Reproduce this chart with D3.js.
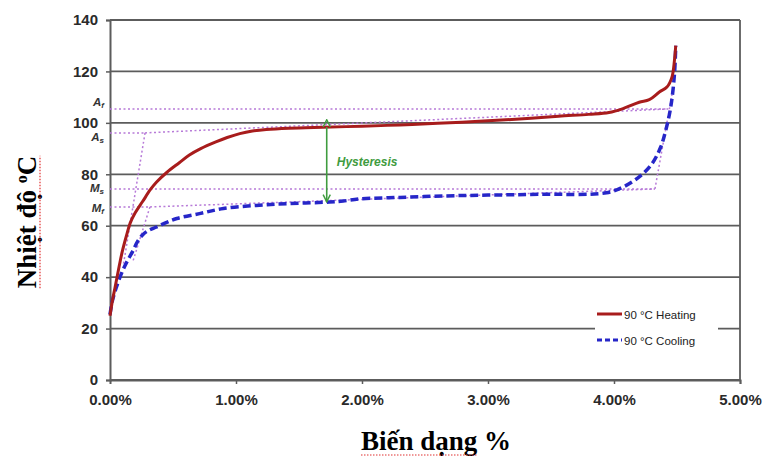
<!DOCTYPE html>
<html><head><meta charset="utf-8">
<script src="https://cdn.jsdelivr.net/npm/d3@7/dist/d3.min.js"></script>
<style>body{margin:0;background:#fff}svg{display:block}</style>
</head><body>
<svg id="c" width="764" height="459"></svg>
<script>
// ---- data ----
const xTicks = [0, 1, 2, 3, 4, 5];
const yTicks = [0, 20, 40, 60, 80, 100, 120, 140];
const heatStrain = [0,0.02,0.04,0.06,0.08,0.1,0.13,0.16,0.2,0.26,0.32,0.37,0.45,0.55,0.63,0.72,0.84,0.93,1.03,1.13,1.24,1.42,1.69,2.0,2.3,2.6,2.93,3.25,3.56,3.8,3.96,4.08,4.2,4.28,4.36,4.42,4.46,4.48,4.49];
const heatTemp   = [25,31,36,41,46,50.5,56,61,65,69.5,74,77,80.7,84.5,87.5,90,92.6,94.3,95.8,96.8,97.4,97.9,98.3,98.7,99.2,99.8,100.6,101.5,102.6,103.3,104,105.7,108,109,112,113.9,117.8,124.4,130];
const coolStrain = [0,0.02,0.05,0.1,0.14,0.18,0.22,0.26,0.3,0.37,0.45,0.53,0.71,0.9,1.16,1.42,1.74,1.85,1.98,2.3,2.67,3.0,3.4,3.94,4.07,4.2,4.3,4.37,4.41,4.45,4.48,4.49];
const coolTemp   = [25.5,31,36,42.5,46.5,50,54,56.5,58,59.5,61.3,62.8,64.7,66.7,67.9,68.6,69.2,69.6,70.4,71,71.6,71.9,72.2,72.8,75,79,84,90.5,97,106,119,130];
const seriesNames = ["90 °C Heating", "90 °C Cooling"];
// construction lines (strain %, temperature)
const refLines = [
  [[0,105.4],[4.43,105.4]],            // Af
  [[0,96.1],[0.278,96.1]],             // As
  [[0.278,96.1],[4.43,105.4]],         // heating plateau tangent
  [[0.278,96.1],[0.107,45]],           // heating start tangent
  [[0,74.3],[4.325,74.3]],             // Ms
  [[0,67.3],[0.317,67.3]],             // Mf
  [[0.317,67.3],[4.325,74.3]],         // cooling plateau tangent
  [[0.317,67.3],[0.181,46]],           // cooling start tangent
  [[4.325,74.3],[4.46,111]]            // cooling end tangent
];
const tempLabels = [["A","f",105.4],["A","s",96.1],["M","s",74.3],["M","f",67.3]];
const hysteresis = {strain: 1.72, from: 98.4, to: 69.3, label: "Hysteresis"};

// ---- chart ----
const svg = d3.select("#c");
const x = d3.scaleLinear().domain([0,5]).range([110,740]);
const y = d3.scaleLinear().domain([0,140]).range([380,20]);
const grid = "#5c5c5c";

// gridlines
svg.append("g").selectAll("line").data(yTicks).join("line")
  .attr("x1", x(0)).attr("x2", x(5))
  .attr("y1", d=>y(d)).attr("y2", d=>y(d))
  .attr("stroke", grid).attr("stroke-width", 1.8);

// axes
const yAxis = d3.axisLeft(y).tickValues(yTicks).tickSize(4).tickPadding(8).tickFormat(d3.format("d"));
const gy = svg.append("g").attr("transform", `translate(${x(0)},0)`).call(yAxis);
const xAxis = d3.axisBottom(x).tickValues(xTicks).tickSize(4).tickPadding(10).tickFormat(d=>d3.format(".2f")(d)+"%");
const gx = svg.append("g").attr("transform", `translate(0,${y(0)})`).call(xAxis);
[gx, gy].forEach(g=>{
  g.select(".domain").attr("stroke", grid).attr("stroke-width", 2);
  g.selectAll(".tick line").attr("stroke", grid).attr("stroke-width", 1.5);
  g.selectAll("text").attr("font-family","Arial, Liberation Sans, sans-serif")
   .attr("font-weight","bold").attr("font-size",15).attr("fill","#2a2a2a");
});
gx.select(".tick line").remove();
// right border
svg.append("line").attr("x1", x(5)).attr("x2", x(5)).attr("y1", y(0)).attr("y2", y(140))
  .attr("stroke", grid).attr("stroke-width", 1.8);

// construction lines
svg.append("g").selectAll("path").data(refLines).join("path")
  .attr("d", d3.line().x(d=>x(d[0])).y(d=>y(d[1])))
  .attr("fill","none").attr("stroke","#b77ad8").attr("stroke-width",1.5)
  .attr("stroke-dasharray","2,2.5");

// temperature labels
const tl = svg.append("g").attr("font-family","Arial, Liberation Sans, sans-serif")
  .attr("font-weight","bold").attr("font-style","italic").attr("fill","#333");
const labelOffset = {"Af":-3, "As":8, "Ms":3.5, "Mf":5};
tempLabels.forEach(([a,b,v])=>{
  const t = tl.append("text").attr("x", 104).attr("y", y(v)+labelOffset[a+b]).attr("text-anchor","end");
  t.append("tspan").attr("font-size",11.5).text(a);
  t.append("tspan").attr("font-size",8).attr("dy",2).text(b);
});

// series
const heat = heatStrain.map((s,i)=>[s, heatTemp[i]]);
const cool = coolStrain.map((s,i)=>[s, coolTemp[i]]);
const line = d3.line().x(d=>x(d[0])).y(d=>y(d[1])).curve(d3.curveCatmullRom.alpha(0.5));
svg.append("path").datum(cool).attr("d", line).attr("fill","none")
  .attr("stroke","#2626c8").attr("stroke-width",3.5).attr("stroke-dasharray","8,4");
svg.append("path").datum(heat).attr("d", line).attr("fill","none")
  .attr("stroke","#a81c1c").attr("stroke-width",3);

// hysteresis arrow
const green = "#3f9c3f";
const defs = svg.append("defs");
["s","e"].forEach(k=>{
  defs.append("marker").attr("id","m"+k).attr("viewBox","0 0 10 10").attr("refX",k==="e"?9:1).attr("refY",5)
    .attr("markerWidth",9).attr("markerHeight",9).attr("orient", k==="e"?"auto":"auto-start-reverse")
    .attr("markerUnits","userSpaceOnUse")
    .append("path").attr("d","M1,1 L9,5 L1,9").attr("fill","none").attr("stroke",green).attr("stroke-width",1.6);
});
svg.append("line").attr("x1", x(hysteresis.strain)).attr("x2", x(hysteresis.strain))
  .attr("y1", y(hysteresis.from)).attr("y2", y(hysteresis.to))
  .attr("stroke", green).attr("stroke-width",1.6)
  .attr("marker-start","url(#ms)").attr("marker-end","url(#me)");
svg.append("text").attr("x", x(hysteresis.strain)+10).attr("y", y((hysteresis.from+hysteresis.to)/2)+2)
  .attr("font-family","Arial, Liberation Sans, sans-serif").attr("font-weight","bold").attr("font-style","italic")
  .attr("font-size",12).attr("fill", green).text(hysteresis.label);

// legend
const lg = svg.append("g").attr("transform","translate(595,300)");
lg.append("rect").attr("width",123).attr("height",52).attr("fill","#fff");
seriesNames.forEach((n,i)=>{
  const g = lg.append("g").attr("transform",`translate(0,${14+i*26})`);
  g.append("line").attr("x1",2).attr("x2",27).attr("stroke", i? "#2626c8":"#a81c1c")
    .attr("stroke-width", 3).attr("stroke-dasharray", i?"5,3":null);
  g.append("text").attr("x",29).attr("y",4.5).attr("font-family","Arial, Liberation Sans, sans-serif")
    .attr("font-size",11.5).attr("fill","#222").text(n);
});

// axis titles
const serif = "'Times New Roman', 'Liberation Serif', serif";
const xt = svg.append("text").attr("x",436).attr("y",450).attr("text-anchor","middle")
  .attr("font-family",serif).attr("font-weight","bold").attr("font-size",27).attr("fill","#000")
  .text("Biến dạng %");
const yt = svg.append("text").attr("transform","translate(36,222) rotate(-90)").attr("text-anchor","middle")
  .attr("font-family",serif).attr("font-weight","bold").attr("font-size",27).attr("fill","#000");
yt.append("tspan").text("Nhiệt độ ");
yt.append("tspan").attr("font-size",16).attr("dy",-9).text("o");
yt.append("tspan").attr("dy",9).text("C");

// spell-check style underline
const xb = xt.node().getBBox();
const wUnder = xt.node().getSubStringLength(0, 9);
svg.append("line").attr("x1", xb.x).attr("x2", xb.x + wUnder).attr("y1", 455).attr("y2", 455)
  .attr("stroke","#e03030").attr("stroke-width",1.2).attr("stroke-dasharray","1.5,1.5");
const yb = yt.node().getBBox();
svg.append("line").attr("transform","translate(36,222) rotate(-90)")
  .attr("x1", yb.x).attr("x2", yb.x + yb.width).attr("y1", 4).attr("y2", 4)
  .attr("stroke","#e03030").attr("stroke-width",1.2).attr("stroke-dasharray","1.5,1.5");
</script>
</body></html>
